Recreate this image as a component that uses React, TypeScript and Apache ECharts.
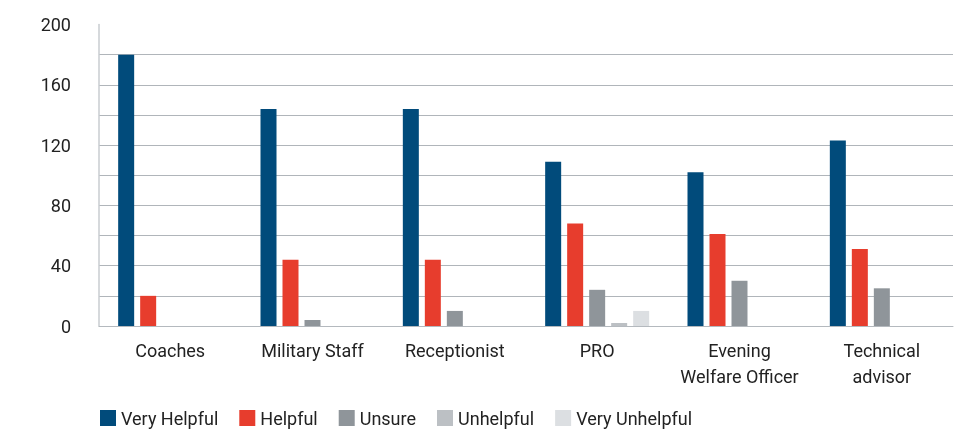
import React, { useEffect, useRef } from "react";
import * as echarts from "echarts";

const categories = ["Coaches", "Military Staff", "Receptionist", "PRO", "Evening\nWelfare Officer", "Technical\nadvisor"];
const seriesNames = ["Very Helpful", "Helpful", "Unsure", "Unhelpful", "Very Unhelpful"];
const veryHelpful = [180, 144, 144, 109, 102, 123];
const helpful = [20, 44, 44, 68, 61, 51];
const unsure = [0, 4, 10, 24, 30, 25];
const unhelpful = [0, 0, 0, 2, 0, 0];
const veryUnhelpful = [0, 0, 0, 10, 0, 0];
const colors = ["#014b7b", "#e73d2d", "#8f959a", "#bcc0c4", "#dcdfe2"];

const FONT = "Roboto, sans-serif";
const FS = 18;

export default function App() {
  const ref = useRef<HTMLDivElement>(null);
  useEffect(() => {
    if (!ref.current) return;
    const chart = echarts.init(ref.current, null, { renderer: "svg" });
    const values = [veryHelpful, helpful, unsure, unhelpful, veryUnhelpful];
    chart.setOption({
      animation: false,
      textStyle: { fontFamily: FONT },
      grid: { left: 99, right: 15, top: 24.5, bottom: 107, containLabel: false },
      legend: {
        left: 100,
        top: 409,
        itemWidth: 16,
        itemHeight: 16,
        itemGap: 21,
        padding: 0,
        icon: "rect",
        textStyle: { fontFamily: FONT, fontSize: FS, color: "#222", padding: [0, 0, 0, 0] },
        data: seriesNames,
      },
      xAxis: {
        type: "category",
        data: categories,
        axisTick: { show: false },
        axisLine: { show: true, lineStyle: { color: "#b4b9be", width: 1 } },
        axisLabel: { fontFamily: FONT, fontSize: FS, color: "#222", margin: 11, lineHeight: 26, interval: 0 },
      },
      yAxis: {
        type: "value",
        min: 0,
        max: 200,
        interval: 20,
        axisLine: { show: true, lineStyle: { color: "#c8ccd0", width: 1.5 } },
        axisTick: { show: false },
        splitLine: { show: true, showMaxLine: false, lineStyle: { color: "#b0b5ba", width: 1 } },
        axisLabel: {
          fontFamily: FONT,
          fontSize: FS,
          color: "#222",
          margin: 28,
          formatter: (v: number) => (v % 40 === 0 ? String(v) : ""),
        },
      },
      series: seriesNames.map((name, i) => ({
        name,
        type: "bar",
        data: values[i],
        barWidth: 16,
        barGap: "37.5%",
        itemStyle: { color: colors[i] },
      })),
    });
    return () => chart.dispose();
  }, []);
  return <div ref={ref} style={{ position: "fixed", left: 0, top: 0, width: 968, height: 433 }} />;
}
